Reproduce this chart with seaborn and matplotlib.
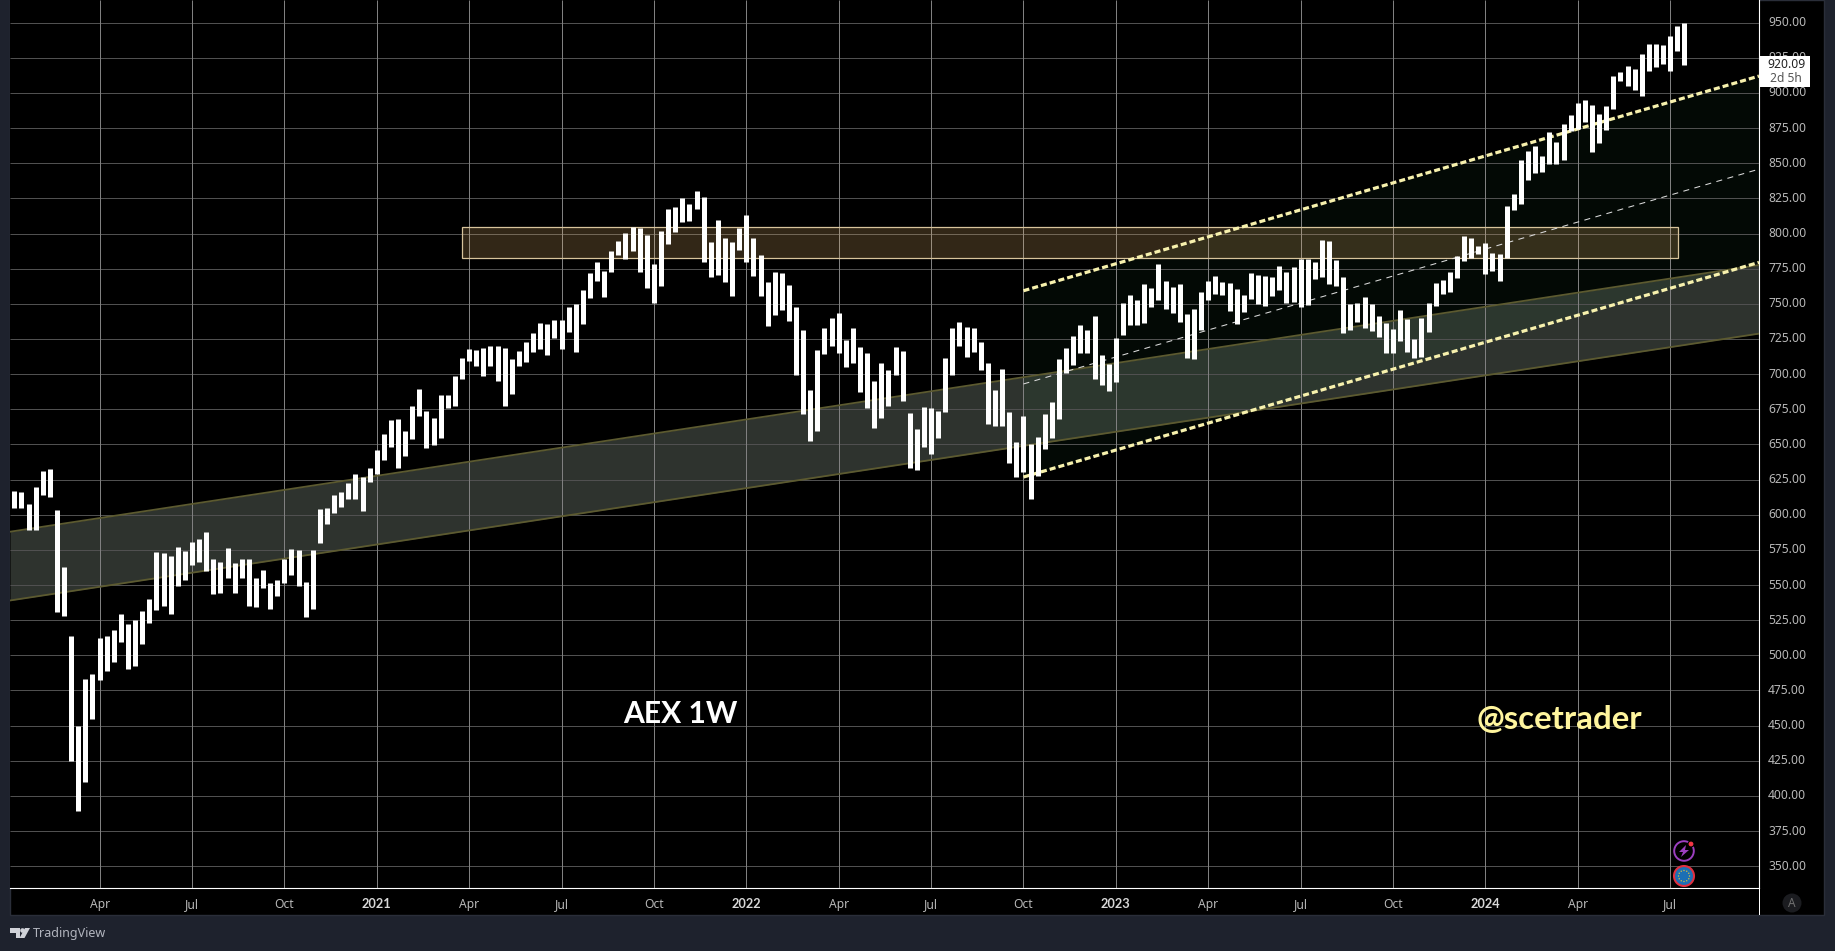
# AEX weekly range chart, dark trading terminal look
import numpy as np
import pandas as pd
import seaborn as sns
import matplotlib.pyplot as plt
from matplotlib.patches import Circle, Polygon, Rectangle
from matplotlib.transforms import ScaledTranslation

highs = [616.9, 616.2, 607.7, 619.8, 631.1, 632.6, 603.4, 562.9, 513.8, 449.8,
         483.2, 486.8, 512.4, 513.8, 518.0, 529.4, 522.3, 525.2, 531.6, 540.1,
         573.5, 572.8, 570.7, 577.1, 574.2, 580.6, 582.8, 587.8, 568.6, 566.4,
         576.4, 565.7, 568.6, 568.6, 555.0, 560.7, 551.5, 553.6, 568.6, 575.7,
         575.0, 552.2, 575.0, 604.1, 604.8, 614.1, 616.2, 622.6, 629.0, 626.9,
         633.3, 646.1, 657.4, 667.4, 668.1, 659.6, 677.3, 689.4, 673.8, 668.8,
         685.2, 685.2, 698.7, 711.5, 717.9, 717.2, 718.6, 720.0, 720.0, 718.6,
         710.8, 716.5, 722.9, 729.3, 736.4, 735.7, 738.5, 738.5, 747.7, 749.9,
         759.8, 771.9, 779.8, 773.4, 787.6, 794.7, 800.4, 804.7, 803.9, 799.0,
         778.3, 801.8, 817.5, 818.9, 825.3, 821.0, 830.3, 826.0, 794.0, 809.6,
         796.8, 794.0, 803.9, 813.2, 796.8, 784.7, 765.5, 772.6, 771.9, 763.4,
         747.7, 731.5, 688.8, 717.2, 732.9, 740.0, 743.5, 724.3, 732.9, 719.4,
         715.1, 695.2, 708.0, 703.0, 719.4, 716.5, 672.4, 661.0, 676.7, 676.0,
         673.8, 711.5, 732.9, 737.1, 733.6, 732.9, 722.9, 708.0, 688.8, 703.7,
         673.1, 651.8, 670.3, 650.4, 655.3, 671.7, 680.2, 710.8, 718.7, 727.2,
         735.0, 731.5, 741.4, 713.7, 707.3, 725.8, 750.7, 756.4, 752.8, 764.2,
         761.3, 778.4, 766.3, 762.0, 764.2, 742.8, 746.4, 758.5, 766.3, 769.8,
         765.6, 764.9, 760.6, 756.3, 772.0, 770.6, 769.8, 769.1, 777.0, 772.7,
         776.2, 781.9, 781.9, 779.8, 795.4, 794.7, 781.2, 769.1, 749.9, 750.6,
         754.9, 749.9, 741.4, 736.4, 732.1, 745.7, 739.2, 725.0, 740.0, 750.6,
         764.9, 767.0, 772.7, 784.1, 798.3, 796.9, 791.2, 793.3, 786.2, 785.5,
         819.6, 828.1, 852.3, 858.7, 862.3, 855.1, 872.2, 865.1, 877.9, 884.3,
         892.8, 895.0, 891.4, 885.0, 890.7, 912.0, 914.9, 919.2, 917.0, 927.7,
         934.8, 934.8, 934.1, 940.5, 947.6, 949.7]
lows = [604.8, 604.8, 589.2, 589.2, 614.1, 612.7, 530.9, 528.0, 424.9, 389.3,
        409.9, 454.8, 482.5, 488.9, 495.3, 509.5, 490.3, 492.4, 508.1, 523.0,
        532.3, 535.1, 529.4, 549.3, 553.6, 564.3, 566.4, 560.0, 543.7, 544.4,
        555.0, 544.4, 555.0, 535.1, 534.4, 547.9, 533.0, 542.2, 551.5, 557.2,
        549.3, 527.3, 533.0, 579.9, 593.4, 601.3, 605.5, 611.2, 611.2, 602.7,
        623.3, 629.0, 638.9, 648.2, 633.2, 641.8, 653.9, 670.2, 647.5, 649.6,
        654.6, 675.9, 677.3, 696.5, 709.3, 705.8, 698.7, 705.8, 695.1, 677.3,
        685.9, 705.8, 708.6, 715.7, 717.9, 713.6, 725.7, 717.9, 730.0, 715.7,
        735.7, 754.2, 766.2, 754.9, 772.6, 784.7, 781.9, 787.6, 772.6, 761.3,
        750.6, 762.7, 792.6, 801.1, 808.2, 808.9, 817.5, 779.8, 769.1, 770.5,
        765.5, 755.6, 788.3, 779.8, 769.8, 755.6, 734.2, 742.1, 745.6, 737.8,
        699.4, 671.7, 652.5, 659.6, 714.4, 720.1, 715.1, 705.1, 708.0, 687.4,
        676.0, 661.7, 668.9, 677.4, 699.4, 681.0, 633.3, 631.9, 648.2, 643.3,
        654.6, 673.1, 699.4, 720.1, 712.2, 715.8, 703.0, 664.6, 663.2, 663.2,
        636.8, 626.9, 630.4, 611.2, 627.6, 646.8, 654.6, 668.1, 700.9, 706.6,
        715.1, 715.1, 696.6, 692.3, 688.1, 694.5, 727.9, 735.0, 735.0, 736.4,
        747.8, 752.8, 746.4, 743.5, 737.2, 711.5, 710.8, 731.4, 752.8, 757.0,
        756.3, 744.9, 735.7, 744.2, 753.5, 749.9, 748.5, 755.6, 759.9, 750.6,
        751.3, 747.8, 749.2, 767.7, 769.1, 764.1, 762.7, 729.3, 731.4, 737.1,
        732.9, 730.7, 726.4, 715.1, 715.1, 723.6, 715.8, 711.5, 712.2, 730.0,
        748.5, 757.0, 758.5, 768.4, 780.5, 782.6, 785.5, 771.3, 773.4, 766.3,
        782.6, 816.7, 821.0, 838.1, 843.0, 843.8, 849.4, 849.4, 852.3, 872.9,
        874.3, 879.3, 858.0, 864.4, 873.6, 888.6, 908.5, 904.9, 902.1, 897.8,
        915.6, 918.4, 920.6, 915.6, 929.8, 919.9]

price_ticks = list(range(350, 975, 25))
time_pos = [12, 25, 38, 51, 64, 77, 90, 103, 116, 129, 142, 155, 168, 181, 194, 207, 220, 233]
time_labels = ['Apr', 'Jul', 'Oct', '2021', 'Apr', 'Jul', 'Oct', '2022', 'Apr', 'Jul', 'Oct',
               '2023', 'Apr', 'Jul', 'Oct', '2024', 'Apr', 'Jul']

# long rising band
band_x = [-0.6, 245.5]
band_top = [587.9, 777.6]
band_bot = [539.0, 728.8]
# trend channel from Oct 2022
chan_x = [142, 245.5]
chan_top = [759.3, 912.0]
chan_mid = [693.0, 845.8]
chan_bot = [626.8, 779.5]
# resistance box
box_x = [63.04, 234.1]
box_y = [782.4, 804.4]

last_price = '920.09'
countdown = '2d 5h'

W, H = 1835, 951
PANEL = '#1e222d'
plt.rcParams['figure.dpi'] = 100
sns.set_theme(style='dark', rc={'axes.facecolor': 'black', 'figure.facecolor': PANEL})
plt.rcParams['font.family'] = ['Noto Sans', 'DejaVu Sans']

fig = plt.figure(figsize=(W / 100, H / 100), dpi=100)


def px_axes(z):
    a = fig.add_axes([0, 0, 1, 1], zorder=z)
    a.set_xlim(0, W)
    a.set_ylim(H, 0)
    a.axis('off')
    a.patch.set_alpha(0)
    return a


# black panel behind plot, price scale and time scale
back = px_axes(0)
back.add_patch(Rectangle((10, 0), 1814, 915, fc='black', ec='#2a2e39', lw=1))

ax = fig.add_axes([10 / W, 1 - 888 / H, 1749 / W, 888 / H], zorder=1)
ax.set_xlim(-0.605, 245.5)
ax.set_ylim(334.5, 966.1)
ax.grid(False)
ax.hlines(price_ticks, -0.605, 245.5, color='#505050', lw=0.72, zorder=3)
ax.vlines(time_pos, 334.5, 966.1, color='#808080', lw=0.72, zorder=3)

ax.fill_between(band_x, band_bot, band_top, color='#5c665c', alpha=0.5, lw=0, zorder=2)
ax.fill_between(chan_x, chan_bot, chan_top, color='#1f5a35', alpha=0.11, lw=0, zorder=2)
ax.add_patch(Rectangle((box_x[0], box_y[0]), box_x[1] - box_x[0], box_y[1] - box_y[0],
                       fc='#ffc878', alpha=0.2, lw=0, zorder=4))
ax.add_patch(Rectangle((box_x[0], box_y[0]), box_x[1] - box_x[0], box_y[1] - box_y[0],
                       fc='none', ec='#d8c49c', lw=0.9, zorder=4))

sns.lineplot(x=band_x, y=band_top, ax=ax, color='#5c5a30', lw=1.3, zorder=4)
sns.lineplot(x=band_x, y=band_bot, ax=ax, color='#5c5a30', lw=1.3, zorder=4)
for ys in (chan_top, chan_bot):
    sns.lineplot(x=chan_x, y=ys, ax=ax, color='#f7f1ad', lw=2.3, zorder=5,
                 linestyle=(0, (1.9, 0.95)), dash_capstyle='butt')
sns.lineplot(x=chan_x, y=chan_mid, ax=ax, color='#dcdcdc', lw=0.75, zorder=5,
             linestyle=(0, (5.8, 5.2)), dash_capstyle='butt')

# one vertical stroke per week from low to high
bars = pd.DataFrame({'week': np.arange(len(highs)), 'high': highs, 'low': lows})
bars = bars.melt(id_vars='week', value_name='price')
sns.lineplot(data=bars, x='week', y='price', units='week', estimator=None, sort=False,
             color='white', lw=3.6, solid_capstyle='butt', ax=ax, zorder=6)

ax.set(xlabel='', ylabel='')
ax.set_xticks(time_pos)
ax.set_xticklabels(time_labels)
ax.set_yticks(price_ticks)
ax.set_yticklabels(['%.2f' % p for p in price_ticks])
ax.yaxis.tick_right()
ax.tick_params(axis='y', length=0, pad=6.5, labelsize=8.7, labelcolor='#b8b8b8')
ax.tick_params(axis='x', length=0, pad=7, labelsize=8.7, labelcolor='#b8b8b8')
up = ScaledTranslation(0, 1.5 / 100, fig.dpi_scale_trans)
for lab in ax.get_yticklabels():
    lab.set_transform(lab.get_transform() + up)
for lab in ax.get_xticklabels():
    if lab.get_text().isdigit():
        lab.set_family(['Lato', 'DejaVu Sans'])
        lab.set_fontweight('bold')
        lab.set_fontsize(9.2)
        lab.set_color('#d8d8d8')
for name, sp in ax.spines.items():
    sp.set_visible(name in ('right', 'bottom'))
    sp.set_color('white')
    sp.set_linewidth(0.8)

# overlay in pixel coordinates: labels and the terminal chrome
top = px_axes(5)
top.text(680.5, 714, 'AEX 1W', color='white', fontsize=21.6, fontweight='bold',
         family=['Lato', 'DejaVu Sans'], ha='center', va='center')
top.text(1559.5, 719.5, '@scetrader', color='#fff59d', fontsize=23.8, fontweight='bold',
         family=['Lato', 'DejaVu Sans'], ha='center', va='center')

top.add_patch(Rectangle((1759, 888), 1.2, 27, fc='white', lw=0))
top.add_patch(Rectangle((1759.5, 56), 50, 31, fc='white', lw=0))
top.text(1786, 64.5, last_price, color='#222222', fontsize=8.7, ha='center', va='center')
top.text(1786, 78.5, countdown, color='#555555', fontsize=8.7, ha='center', va='center')

# small event icons
top.add_patch(Circle((1684, 851), 9.8, fc='black', ec='#9c3fc0', lw=1.4))
top.add_patch(Polygon([(1686, 845), (1679, 852), (1683, 852), (1681, 857), (1689, 850), (1685, 850)],
                      fc='#9c3fc0', lw=0))
top.add_patch(Circle((1691, 844), 3.0, fc='#f23645', ec='black', lw=0.8))
top.add_patch(Circle((1684, 876), 10.0, fc='#1c6fb5', ec='#e03040', lw=1.5))
for a in np.arange(12) * np.pi / 6:
    top.add_patch(Circle((1684 + 5.5 * np.cos(a), 876 + 5.5 * np.sin(a)), 0.7, fc='#d8c040', lw=0))

# auto scale button
top.add_patch(Circle((1792, 903), 9.5, fc='#1b1c20', lw=0))
top.text(1792, 903.5, 'A', color='#707070', fontsize=8.5, ha='center', va='center')

# TradingView logo
top.add_patch(Polygon([(10, 928), (20, 928), (20, 938), (15.5, 938), (15.5, 932.5), (10, 932.5)],
                      fc='#d0d2d8', lw=0))
top.add_patch(Circle((22.5, 930.5), 2.3, fc='#d0d2d8', lw=0))
top.add_patch(Polygon([(25, 928), (30, 928), (24.5, 938), (19.5, 938)], fc='#d0d2d8', lw=0))
top.text(33, 933.5, 'TradingView', color='#b2b5be', fontsize=9, ha='left', va='center')

fig.savefig('out.png', dpi=100, facecolor=fig.get_facecolor())
